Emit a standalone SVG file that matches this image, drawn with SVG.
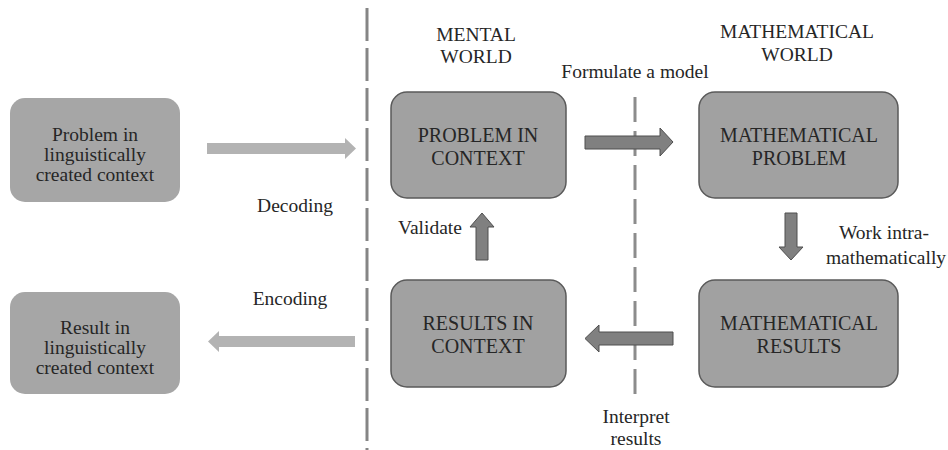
<svg xmlns="http://www.w3.org/2000/svg" width="948" height="450" viewBox="0 0 948 450" font-family="'Liberation Serif', 'DejaVu Serif', serif">
<style>
  text { font-family: "Liberation Serif", "Times New Roman", "DejaVu Serif", serif; font-size: 19.5px; fill: #262626; text-anchor: middle; }
  .box { font-size: 20px; }
  .outer { fill: #a6a6a6; }
  .inner { fill: #a1a1a1; stroke: #5a5a5a; stroke-width: 1.5; }
  .light { fill: #b3b3b3; }
  .dark { fill: #808080; stroke: #4f4f4f; stroke-width: 1; }
  .dash1 { stroke: #858585; stroke-width: 3; stroke-dasharray: 33 7; fill: none; }
  .dash2 { stroke: #8c8c8c; stroke-width: 3; stroke-dasharray: 25 9; fill: none; }
</style>
<rect width="948" height="450" fill="#ffffff"/>

<g id="dividers">
  <line class="dash1" x1="367" y1="8" x2="367" y2="450"/>
  <line class="dash2" x1="635" y1="97" x2="635" y2="395"/>
</g>

<g id="headers">
  <text x="476" y="41">MENTAL</text>
  <text x="476" y="63">WORLD</text>
  <text x="797" y="38">MATHEMATICAL</text>
  <text x="797" y="61">WORLD</text>
</g>

<g id="node-problem-linguistic">
  <rect class="outer" x="10" y="98" width="170" height="104" rx="15"/>
  <text x="95" y="141">Problem in</text>
  <text x="95" y="161">linguistically</text>
  <text x="95" y="181">created context</text>
</g>

<g id="node-result-linguistic">
  <rect class="outer" x="10" y="292" width="170" height="102" rx="15"/>
  <text x="95" y="334">Result in</text>
  <text x="95" y="354">linguistically</text>
  <text x="95" y="374">created context</text>
</g>

<g id="node-problem-context">
  <rect class="inner" x="391" y="92" width="175" height="106" rx="16"/>
  <text class="box" x="478" y="142">PROBLEM IN</text>
  <text class="box" x="478" y="165">CONTEXT</text>
</g>

<g id="node-math-problem">
  <rect class="inner" x="699" y="92" width="199" height="106" rx="16"/>
  <text class="box" x="799" y="142">MATHEMATICAL</text>
  <text class="box" x="799" y="165">PROBLEM</text>
</g>

<g id="node-results-context">
  <rect class="inner" x="391" y="280" width="175" height="107" rx="16"/>
  <text class="box" x="478" y="330">RESULTS IN</text>
  <text class="box" x="478" y="353">CONTEXT</text>
</g>

<g id="node-math-results">
  <rect class="inner" x="699" y="280" width="199" height="107" rx="16"/>
  <text class="box" x="799" y="330">MATHEMATICAL</text>
  <text class="box" x="799" y="353">RESULTS</text>
</g>

<g id="connectors">
  <polygon class="light" points="207,143 345,143 345,138 356,148.5 345,159 345,154 207,154"/>
  <polygon class="light" points="355,336 219,336 219,331 208,341.5 219,352 219,347 355,347"/>
  <polygon class="dark" points="585,136 660,136 660,128 673,142 660,156 660,149 585,149"/>
  <polygon class="dark" points="785,213 797,213 797,247 803,247 791,260 779,247 785,247"/>
  <polygon class="dark" points="673,332 599,332 599,325 585,338.5 599,352 599,345 673,345"/>
  <polygon class="dark" points="476,260 488,260 488,227 494,227 482,213 470,227 476,227"/>
</g>

<g id="labels">
  <text x="295" y="212">Decoding</text>
  <text x="290" y="305">Encoding</text>
  <text x="635" y="78">Formulate a model</text>
  <text x="430" y="234">Validate</text>
  <text x="884" y="239">Work intra-</text>
  <text x="886" y="264">mathematically</text>
  <text x="636" y="423">Interpret</text>
  <text x="636" y="445">results</text>
</g>
</svg>
